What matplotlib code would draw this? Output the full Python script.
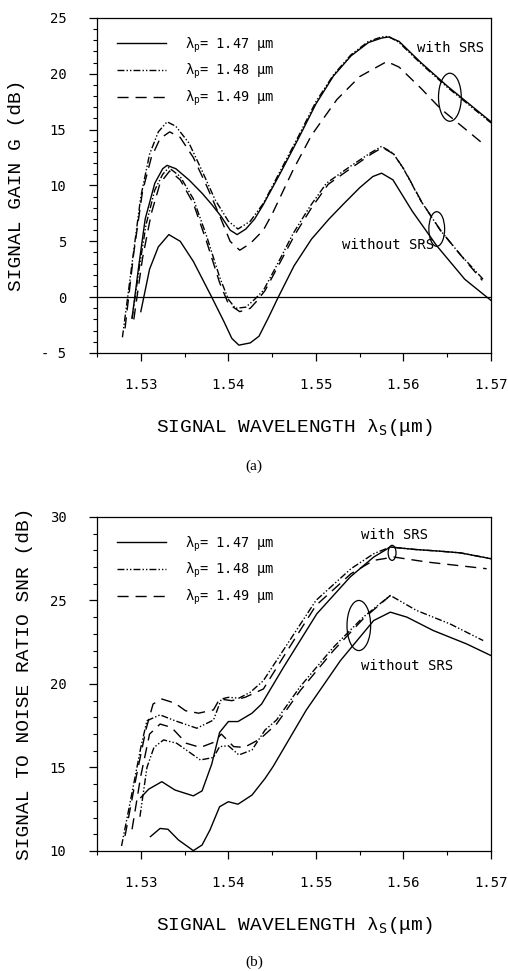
#!/usr/bin/env python3
# -*- coding: utf-8 -*-
import numpy as np
import matplotlib
matplotlib.use('Agg')
import matplotlib.pyplot as plt
from matplotlib.patches import Ellipse
from matplotlib.ticker import MultipleLocator

plt.rcParams['font.family'] = ['DejaVu Sans Mono', 'DejaVu Sans']
plt.rcParams['mathtext.fontset'] = 'custom'
plt.rcParams['mathtext.rm'] = 'DejaVu Sans Mono'
plt.rcParams['mathtext.it'] = 'DejaVu Sans Mono'

# ======================= (a) gain ======================
# with SRS
g_srs_147_x = [1.5290, 1.5298, 1.5305, 1.5316, 1.5325, 1.5330, 1.5340, 1.5355, 1.5370, 1.5381,
               1.5392, 1.5402, 1.5410, 1.5420, 1.5430, 1.5440, 1.5460, 1.5480, 1.5500, 1.5520,
               1.5540, 1.5560, 1.5575, 1.5583, 1.5595, 1.5620, 1.5650, 1.5700]
g_srs_147_y = [-1.9, 3.0, 7.0, 10.2, 11.5, 11.8, 11.5, 10.5, 9.3, 8.3,
               7.2, 6.0, 5.6, 6.1, 7.0, 8.3, 11.2, 14.2, 17.3, 19.8,
               21.6, 22.8, 23.2, 23.3, 22.9, 21.0, 18.9, 15.7]
g_srs_148_x = [1.5279, 1.5290, 1.5300, 1.5310, 1.5320, 1.5330, 1.5340, 1.5355, 1.5370, 1.5385,
               1.5400, 1.5411, 1.5425, 1.5440, 1.5460, 1.5480, 1.5500, 1.5520, 1.5540, 1.5560,
               1.5575, 1.5583, 1.5595, 1.5620, 1.5650, 1.5700]
g_srs_148_y = [-3.6, 3.0, 9.0, 12.8, 14.8, 15.7, 15.3, 13.8, 11.3, 8.7,
               6.8, 6.1, 6.8, 8.4, 11.4, 14.4, 17.5, 19.9, 21.7, 22.9,
               23.3, 23.35, 22.8, 20.9, 18.8, 15.6]
g_srs_149_x = [1.5282, 1.5292, 1.5302, 1.5312, 1.5322, 1.5333, 1.5345, 1.5360, 1.5375, 1.5390,
               1.5402, 1.5413, 1.5425, 1.5440, 1.5451, 1.5474, 1.5495, 1.5524, 1.5550, 1.5581,
               1.5595, 1.5620, 1.5642, 1.5693]
g_srs_149_y = [-2.8, 4.0, 9.5, 12.5, 14.2, 14.8, 14.3, 12.5, 10.0, 7.3,
               5.0, 4.2, 4.8, 6.0, 7.6, 11.4, 14.5, 17.7, 19.75, 21.1,
               20.6, 18.7, 16.9, 13.6]
# without SRS
g_no_147_x = [1.5300, 1.5310, 1.5320, 1.5332, 1.5345, 1.5360, 1.5381, 1.5395, 1.5404, 1.5412,
              1.5425, 1.5435, 1.5446, 1.5457, 1.5475, 1.5495, 1.5515, 1.5531, 1.5550, 1.5565,
              1.5575, 1.5588, 1.5610, 1.5638, 1.5670, 1.5700]
g_no_147_y = [-1.3, 2.5, 4.5, 5.6, 5.0, 3.2, 0.0, -2.2, -3.7, -4.3,
              -4.1, -3.5, -1.8, 0.0, 2.8, 5.2, 7.0, 8.3, 9.8, 10.8,
              11.1, 10.5, 7.7, 4.6, 1.6, -0.3]
g_no_148_x = [1.5290, 1.5298, 1.5306, 1.5316, 1.5325, 1.5332, 1.5345, 1.5360, 1.5375, 1.5390,
              1.5400, 1.5408, 1.5420, 1.5430, 1.5440, 1.5455, 1.5474, 1.5493, 1.5512, 1.5539,
              1.5562, 1.5575, 1.5588, 1.5600, 1.5620, 1.5642, 1.5665, 1.5691]
g_no_148_y = [-1.9, 2.5, 6.5, 9.6, 11.0, 11.6, 10.8, 8.8, 5.5, 1.8,
              -0.2, -1.0, -0.9, -0.2, 0.6, 2.8, 5.7, 8.1, 10.2, 11.7,
              12.9, 13.5, 12.9, 11.5, 8.6, 6.0, 3.8, 1.6]
g_no_149_x = [1.5292, 1.5302, 1.5312, 1.5322, 1.5333, 1.5345, 1.5360, 1.5375, 1.5390, 1.5400,
              1.5413, 1.5425, 1.5433, 1.5442, 1.5457, 1.5476, 1.5495, 1.5514, 1.5541, 1.5563,
              1.5576, 1.5589, 1.5601, 1.5621, 1.5643, 1.5666, 1.5690]
g_no_149_y = [-2.0, 3.5, 7.5, 10.2, 11.3, 10.5, 8.4, 5.0, 1.3, -0.6,
              -1.3, -1.0, -0.3, 0.6, 2.8, 5.6, 8.0, 10.1, 11.6, 12.8,
              13.4, 12.8, 11.4, 8.5, 5.9, 3.7, 1.5]

# ======================= (b) SNR =======================
s_srs_147_x = [1.5300, 1.5309, 1.5324, 1.5339, 1.5360, 1.5370, 1.5381, 1.5390, 1.5400, 1.5411,
               1.5427, 1.5438, 1.5463, 1.5501, 1.5539, 1.5566, 1.5585, 1.5614, 1.5642, 1.5665,
               1.5700]
s_srs_147_y = [13.2, 13.7, 14.15, 13.65, 13.3, 13.6, 15.2, 17.1, 17.75, 17.75,
               18.25, 18.8, 21.0, 24.2, 26.4, 27.6, 28.2, 28.05, 27.95, 27.85,
               27.5]
s_srs_148_x = [1.5278, 1.5290, 1.5300, 1.5307, 1.5322, 1.5339, 1.5364, 1.5383, 1.5392, 1.5400,
               1.5412, 1.5425, 1.5440, 1.5465, 1.5500, 1.5540, 1.5566, 1.5585, 1.5614, 1.5642,
               1.5665, 1.5700]
s_srs_148_y = [10.3, 13.5, 16.2, 17.8, 18.15, 17.8, 17.35, 17.84, 19.1, 19.2,
               19.15, 19.5, 20.2, 22.2, 25.0, 26.9, 27.8, 28.2, 28.05, 27.95,
               27.85, 27.5]
s_srs_149_x = [1.5282, 1.5295, 1.5306, 1.5314, 1.5324, 1.5339, 1.5351, 1.5366, 1.5383, 1.5390,
               1.5404, 1.5419, 1.5440, 1.5465, 1.5500, 1.5540, 1.5566, 1.5589, 1.5627, 1.5695]
s_srs_149_y = [10.9, 14.5, 17.3, 18.8, 19.1, 18.85, 18.4, 18.25, 18.45, 19.1,
               19.0, 19.2, 19.7, 21.8, 24.7, 26.6, 27.4, 27.6, 27.3, 26.9]
s_no_147_x = [1.5311, 1.5322, 1.5331, 1.5343, 1.5360, 1.5370, 1.5379, 1.5390, 1.5400, 1.5411,
              1.5427, 1.5442, 1.5451, 1.5489, 1.5528, 1.5566, 1.5585, 1.5604, 1.5634, 1.5672,
              1.5700]
s_no_147_y = [10.86, 11.35, 11.3, 10.66, 10.02, 10.36, 11.26, 12.65, 12.95, 12.8,
              13.35, 14.35, 15.05, 18.44, 21.4, 23.8, 24.3, 24.0, 23.2, 22.4,
              21.7]
s_no_148_x = [1.5299, 1.5307, 1.5315, 1.5326, 1.5341, 1.5368, 1.5383, 1.5390, 1.5400, 1.5412,
              1.5427, 1.5442, 1.5455, 1.5482, 1.5520, 1.5554, 1.5585, 1.5615, 1.5653, 1.5691]
s_no_148_y = [12.05, 15.0, 16.2, 16.65, 16.45, 15.45, 15.6, 16.25, 16.3, 15.75,
              16.05, 17.25, 17.84, 19.84, 22.2, 24.0, 25.3, 24.4, 23.6, 22.6]
s_no_149_x = [1.5290, 1.5300, 1.5310, 1.5322, 1.5335, 1.5352, 1.5368, 1.5383, 1.5392, 1.5406,
              1.5418, 1.5436, 1.5455, 1.5482, 1.5520, 1.5554, 1.5585]
s_no_149_y = [11.3, 14.5, 17.0, 17.6, 17.4, 16.45, 16.2, 16.5, 17.0, 16.25,
              16.2, 16.7, 17.6, 19.6, 22.0, 23.9, 25.3]

pump_labels = [r'$\lambda_p$= 1.47 $\mu$m', r'$\lambda_p$= 1.48 $\mu$m', r'$\lambda_p$= 1.49 $\mu$m']
x_ticks = [1.53, 1.54, 1.55, 1.56, 1.57]
x_ticklabels = ['1.53', '1.54', '1.55', '1.56', '1.57']
g_ticks = [-5, 0, 5, 10, 15, 20, 25]
g_ticklabels = ['- 5', '0', '5', '10', '15', '20', '25']
s_ticks = [10, 15, 20, 25, 30]
s_ticklabels = ['10', '15', '20', '25', '30']

# styles
sty = [dict(ls='-'), dict(dashes=(5, 1.5, 1, 1.5, 1, 1.5)), dict(dashes=(8, 5))]
lw = 1.0
xlab = 'SIGNAL WAVELENGTH λ$_{S}$(μm)'
lab_font = ['Liberation Mono', 'DejaVu Sans Mono']

fig = plt.figure(figsize=(5.08, 9.71), dpi=100)
ax1 = fig.add_axes([0.191, 0.6365, 0.7756, 0.345])
ax2 = fig.add_axes([0.191, 0.1236, 0.7756, 0.344])


def habillage(ax, ymin, ymax, yt, ytl, ylab):
    ax.set_xlim(1.525, 1.57)
    ax.set_ylim(ymin, ymax)
    ax.xaxis.set_minor_locator(MultipleLocator(0.005))
    ax.yaxis.set_minor_locator(MultipleLocator(1))
    ax.set_xticks(x_ticks)
    ax.set_xticklabels(x_ticklabels)
    ax.set_yticks(yt)
    ax.set_yticklabels(ytl)
    ax.tick_params(which='major', direction='out', length=6, width=0.9, labelsize=10)
    ax.tick_params(which='minor', direction='out', length=3, width=0.8)
    ax.tick_params(axis='x', pad=12)
    ax.tick_params(axis='y', pad=16)
    for s in ax.spines.values():
        s.set_linewidth(0.9)
    ax.set_xlabel(xlab, fontsize=14, labelpad=18, family=lab_font)
    ax.set_ylabel(ylab, fontsize=14, labelpad=12, family=lab_font)
    leg = ax.legend(loc='upper left', bbox_to_anchor=(0.02, 0.985), frameon=False,
                    handlelength=3.6, handletextpad=1.4, labelspacing=0.55, fontsize=9.8)
    return leg


# ---- (a)
lines = []
for (x, y), st in zip([(g_srs_147_x, g_srs_147_y), (g_srs_148_x, g_srs_148_y),
                       (g_srs_149_x, g_srs_149_y)], sty):
    l, = ax1.plot(x, y, color='k', lw=lw, **st)
    lines.append(l)
for (x, y), st in zip([(g_no_147_x, g_no_147_y), (g_no_148_x, g_no_148_y),
                       (g_no_149_x, g_no_149_y)], sty):
    ax1.plot(x, y, color='k', lw=lw, **st)
for l, lab in zip(lines, pump_labels):
    l.set_label(lab)
ax1.axhline(0, color='k', lw=0.9)
ax1.add_patch(Ellipse((1.5653, 17.9), 0.0026, 4.3, fill=False, lw=0.9))
ax1.add_patch(Ellipse((1.5638, 6.1), 0.0018, 3.1, fill=False, lw=0.9))
ax1.text(1.5615, 22.3, 'with SRS', fontsize=10, va='center')
ax1.text(1.5530, 4.7, 'without SRS', fontsize=10, va='center')
habillage(ax1, -5, 25, g_ticks, g_ticklabels, 'SIGNAL GAIN G (dB)')
fig.text(0.5, 0.52, '(a)', ha='center', va='center', fontsize=11, family='Liberation Serif')

# ---- (b)
lines = []
for (x, y), st in zip([(s_srs_147_x, s_srs_147_y), (s_srs_148_x, s_srs_148_y),
                       (s_srs_149_x, s_srs_149_y)], sty):
    l, = ax2.plot(x, y, color='k', lw=lw, **st)
    lines.append(l)
for (x, y), st in zip([(s_no_147_x, s_no_147_y), (s_no_148_x, s_no_148_y),
                       (s_no_149_x, s_no_149_y)], sty):
    ax2.plot(x, y, color='k', lw=lw, **st)
for l, lab in zip(lines, pump_labels):
    l.set_label(lab)
ax2.add_patch(Ellipse((1.5587, 27.85), 0.0009, 0.9, fill=False, lw=0.9))
ax2.add_patch(Ellipse((1.5549, 23.5), 0.0027, 3.0, fill=False, lw=0.9))
ax2.text(1.5551, 28.9, 'with SRS', fontsize=10, va='center')
ax2.text(1.5551, 21.1, 'without SRS', fontsize=10, va='center')
habillage(ax2, 10, 30, s_ticks, s_ticklabels, 'SIGNAL TO NOISE RATIO SNR (dB)')
fig.text(0.5, 0.009, '(b)', ha='center', va='center', fontsize=11, family='Liberation Serif')

plt.savefig('out.png', dpi=100)
